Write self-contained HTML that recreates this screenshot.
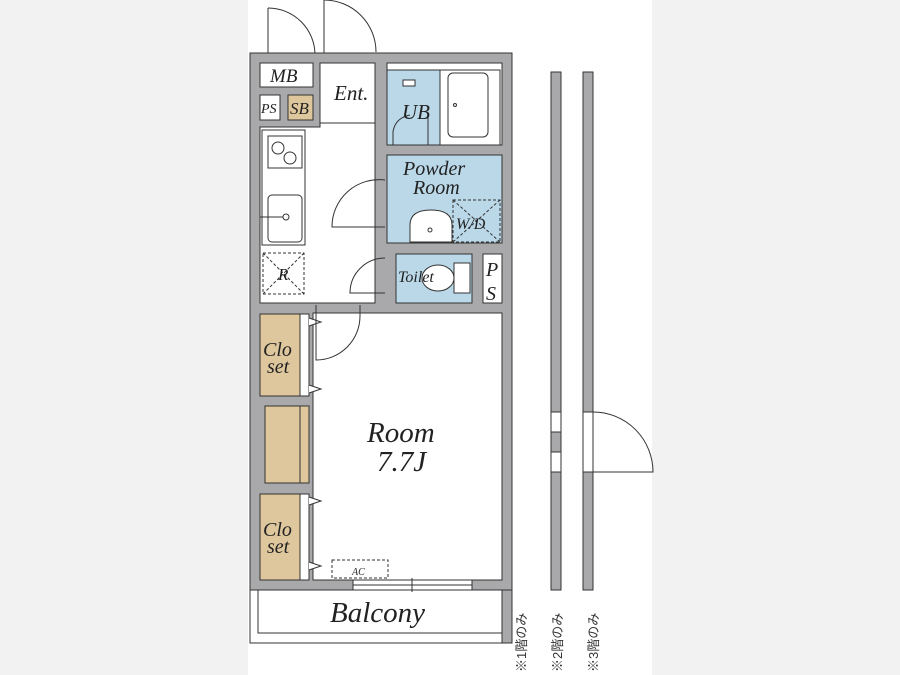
<!DOCTYPE html><html><head><meta charset="utf-8"><style>body{margin:0;background:#f2f2f2}svg{display:block}</style></head><body>
<svg width="900" height="675" viewBox="0 0 900 675" xmlns="http://www.w3.org/2000/svg" font-family="Liberation Serif, serif" font-style="italic">
<rect x="0" y="0" width="900" height="675" fill="#f2f2f2"/>
<rect x="248" y="0" width="404" height="675" fill="#fff"/>
<g stroke="#333" stroke-width="1" fill="none">
<line x1="268" y1="8" x2="268" y2="63"/><path d="M268 8 A47 47 0 0 1 315 55"/>
<line x1="324" y1="0" x2="324" y2="53"/><path d="M324 0 A52 52 0 0 1 376 52"/>
</g>
<rect x="250" y="53" width="262" height="537" fill="#a9a9ab" stroke="#333"/>
<rect x="250" y="590" width="262" height="53" fill="#fff" stroke="#333"/>
<rect x="502" y="590" width="10" height="53" fill="#a9a9ab" stroke="#333"/>
<rect x="258" y="590" width="244" height="43" fill="#fff" stroke="#333"/>
<g stroke="#333" stroke-width="1">
<path d="M320 63 H375 V303 H260 V127 H320 Z" fill="#fff"/>
<line x1="320" y1="123" x2="375" y2="123"/>
<rect x="260" y="63" width="53" height="24" fill="#fff"/>
<rect x="260" y="95" width="20" height="25" fill="#fff"/>
<rect x="288" y="95" width="25" height="25" fill="#dfc79d"/>
<rect x="262" y="130" width="43" height="115" fill="#fff"/>
<rect x="268" y="136" width="34" height="32" fill="#fff"/>
<circle cx="278" cy="148" r="6" fill="none"/><circle cx="290" cy="158" r="6" fill="none"/>
<rect x="268" y="195" width="34" height="47" rx="4" fill="#fff"/>
<line x1="260" y1="217" x2="285" y2="217"/><circle cx="286" cy="217" r="3" fill="#fff"/>
<rect x="263" y="253" width="41" height="41" fill="none" stroke-dasharray="3,2"/>
<line x1="263" y1="253" x2="304" y2="294" stroke-dasharray="3,2"/><line x1="304" y1="253" x2="263" y2="294" stroke-dasharray="3,2"/>
<rect x="387" y="63" width="115" height="82" fill="#fff"/>
<rect x="387" y="70" width="53" height="75" fill="#bad8e8"/>
<rect x="440" y="70" width="60" height="75" fill="#fff"/>
<rect x="448" y="73" width="40" height="64" rx="5" fill="#fff"/>
<circle cx="455" cy="105" r="1.5" fill="none"/>
<path d="M393 145 V132 Q395 118 410 115" fill="none"/><line x1="428" y1="115" x2="428" y2="145"/>
<rect x="403" y="80" width="12" height="6" fill="#fff"/>
<rect x="387" y="155" width="115" height="88" fill="#bad8e8"/>
<rect x="453" y="200" width="47" height="42" fill="none" stroke-dasharray="3,2"/>
<line x1="453" y1="200" x2="500" y2="242" stroke-dasharray="3,2"/><line x1="500" y1="200" x2="453" y2="242" stroke-dasharray="3,2"/>
<path d="M410 242 V225 Q410 210 431 210 Q452 210 452 225 V242 Z" fill="#fff"/>
<circle cx="430" cy="230" r="2" fill="none"/>
<rect x="396" y="254" width="76" height="49" fill="#bad8e8"/>
<rect x="454" y="263" width="16" height="30" fill="#fff"/>
<ellipse cx="438" cy="278" rx="16" ry="13" fill="#fff"/>
<rect x="483" y="254" width="19" height="49" fill="#fff"/>
<rect x="313" y="313" width="189" height="267" fill="#fff"/>
<rect x="260" y="314" width="40" height="82" fill="#dfc79d"/>
<rect x="300" y="314" width="9" height="82" fill="#fff"/>
<rect x="265" y="406" width="35" height="77" fill="#dfc79d"/>
<rect x="300" y="406" width="9" height="77" fill="#dfc79d"/>
<rect x="260" y="494" width="40" height="86" fill="#dfc79d"/>
<rect x="300" y="494" width="9" height="86" fill="#fff"/>
<rect x="332" y="560" width="56" height="18" fill="none" stroke-dasharray="3,2"/>
<rect x="353" y="580" width="119" height="10" fill="#fff"/>
<line x1="353" y1="585" x2="472" y2="585"/><line x1="412" y1="578" x2="412" y2="592"/>
</g>
<g stroke="#333" fill="#fff">
<path d="M309 318 L321 322 L309 326"/><path d="M309 385 L321 389 L309 393"/>
<path d="M309 497 L321 501 L309 505"/><path d="M309 562 L321 566 L309 570"/>
</g>
<g stroke="#333" fill="none">
<path d="M316 305 V360 A44 44 0 0 0 360 316 V305"/>
<path d="M385 227 H332 A47 47 0 0 1 385 180"/>
<path d="M385 258 A35 35 0 0 0 350 293 H385"/>
</g>
<g stroke="#333">
<rect x="551" y="72" width="10" height="518" fill="#a9a9ab"/>
<rect x="551" y="412" width="10" height="20" fill="#fff"/>
<rect x="551" y="452" width="10" height="20" fill="#fff"/>
<rect x="583" y="72" width="10" height="518" fill="#a9a9ab"/>
<rect x="583" y="412" width="10" height="60" fill="#fff"/>
<path d="M593 412 A60 60 0 0 1 653 472 H593" fill="none"/>
</g>
<g fill="#222">
<text x="270" y="82" font-size="19">MB</text>
<text x="261" y="113" font-size="14">PS</text>
<text x="290" y="114" font-size="17">SB</text>
<text x="334" y="100" font-size="21">Ent.</text>
<text x="402" y="119" font-size="21">UB</text>
<text x="403" y="175" font-size="20">Powder</text>
<text x="413" y="194" font-size="20">Room</text>
<text x="456" y="229" font-size="16">W/D</text>
<text x="278" y="280" font-size="17">R</text>
<text x="398" y="282" font-size="16">Toilet</text>
<text x="486" y="276" font-size="20">P</text>
<text x="486" y="300" font-size="20">S</text>
<text x="263" y="356" font-size="20">Clo</text>
<text x="267" y="373" font-size="20">set</text>
<text x="263" y="536" font-size="20">Clo</text>
<text x="267" y="553" font-size="20">set</text>
<text x="367" y="442" font-size="29">Room</text>
<text x="377" y="471" font-size="29">7.7J</text>
<text x="352" y="575" font-size="10">AC</text>
<text x="330" y="622" font-size="29">Balcony</text>
</g>
<g font-family="Liberation Sans, Noto Sans CJK JP, sans-serif" font-style="normal" font-size="13" fill="#333">
<text transform="translate(526,672) rotate(-90)">※1階のみ</text>
<text transform="translate(562,672) rotate(-90)">※2階のみ</text>
<text transform="translate(598,672) rotate(-90)">※3階のみ</text>
</g>
</svg>
</body></html>
